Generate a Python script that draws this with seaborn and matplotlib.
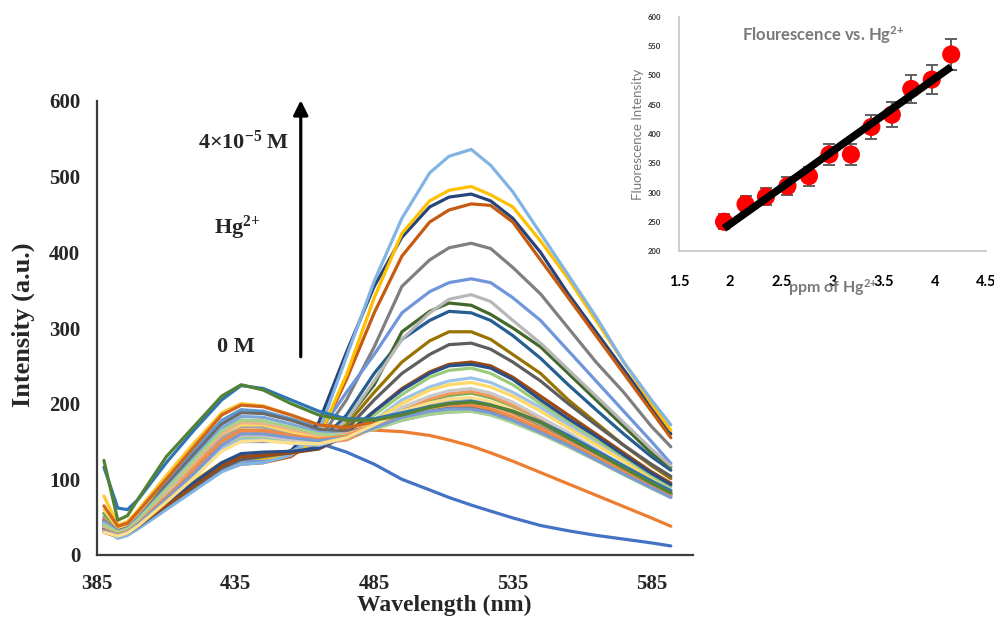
import matplotlib
matplotlib.use("Agg")
import matplotlib.pyplot as plt
import numpy as np
import pandas as pd
import seaborn as sns

# ---------------------------------------------------------------- data
wavelength_nm = [387.5, 392.5, 396, 400, 410, 420, 430, 437, 445, 455, 465, 475,
                 485, 495, 505, 512, 520, 527, 535, 545, 555, 565, 575, 585, 592]

# emission spectra, one list per Hg2+ addition (intensity, a.u.)
blue_0 = [48, 33, 37, 50, 85, 118, 145, 150, 150, 150, 148, 136, 120, 100, 86, 76, 66, 58, 49, 39, 32, 26, 21, 16, 12]
orange_1 = [55, 33, 37, 50, 85, 120, 155, 165, 165, 160, 158, 163, 165, 163, 158, 152, 144, 135, 124, 109, 94, 79, 64, 49, 38]
gray_c8 = [36, 28, 32, 44, 80, 117, 155, 170, 169, 162, 156, 160, 175, 191, 200, 204, 205, 200, 189, 172, 153, 133, 113, 94, 81]
yellow_c1 = [78, 40, 44, 60, 105, 148, 188, 200, 197, 185, 172, 170, 178, 187, 193, 195, 195, 190, 180, 165, 147, 128, 110, 92, 80]
blue_c3 = [50, 34, 38, 53, 95, 138, 178, 192, 190, 180, 168, 166, 176, 191, 201, 206, 207, 202, 192, 175, 155, 135, 115, 95, 83]
green_214 = [55, 35, 40, 55, 92, 130, 165, 178, 177, 168, 158, 158, 170, 190, 205, 211, 214, 208, 197, 180, 160, 138, 117, 96, 82]
navy_477 = [40, 25, 30, 42, 70, 95, 118, 126, 128, 138, 175, 268, 355, 420, 460, 473, 477, 468, 445, 400, 345, 295, 245, 195, 160]
rust_465 = [30, 24, 28, 38, 62, 88, 112, 120, 122, 130, 155, 232, 320, 395, 440, 456, 464, 462, 440, 390, 340, 290, 240, 190, 155]
gray_412 = [42, 27, 30, 42, 70, 95, 118, 125, 128, 136, 152, 205, 275, 355, 390, 406, 412, 405, 380, 345, 300, 255, 215, 170, 143]
olive_295 = [38, 27, 30, 40, 68, 93, 118, 128, 132, 137, 146, 172, 215, 255, 283, 295, 295, 285, 265, 240, 205, 175, 145, 118, 101]
steel_321 = [35, 26, 29, 40, 68, 92, 118, 128, 131, 137, 148, 185, 240, 285, 310, 322, 320, 310, 290, 260, 225, 192, 160, 130, 112]
forest_335 = [40, 27, 30, 42, 70, 95, 120, 130, 132, 137, 147, 178, 225, 295, 322, 333, 330, 318, 300, 275, 240, 205, 170, 135, 116]
cornflower_365 = [38, 25, 30, 40, 66, 92, 115, 122, 126, 136, 162, 215, 265, 320, 348, 360, 365, 360, 340, 310, 270, 230, 190, 150, 121]
peach_216 = [48, 32, 36, 50, 85, 118, 150, 162, 160, 153, 148, 152, 168, 190, 206, 213, 216, 210, 198, 180, 160, 138, 116, 94, 80]
silver_344 = [35, 25, 28, 38, 65, 90, 115, 125, 130, 137, 148, 178, 230, 285, 320, 338, 344, 335, 310, 280, 245, 210, 175, 140, 118]
gold_487 = [45, 28, 32, 45, 72, 98, 122, 128, 128, 133, 155, 238, 340, 425, 468, 482, 487, 476, 460, 415, 365, 310, 255, 200, 165]
sky_536 = [35, 22, 26, 35, 60, 85, 110, 120, 122, 132, 162, 262, 362, 445, 505, 527, 536, 515, 480, 425, 370, 315, 255, 205, 172]
lime_247 = [36, 28, 32, 44, 75, 105, 140, 155, 156, 150, 146, 160, 185, 212, 235, 244, 247, 240, 225, 200, 175, 152, 128, 105, 90]
charcoal_280 = [34, 26, 29, 38, 65, 90, 115, 126, 130, 135, 143, 166, 205, 240, 265, 278, 280, 272, 255, 230, 200, 172, 145, 120, 104]
brown_255 = [33, 28, 31, 40, 66, 92, 118, 130, 132, 135, 140, 158, 190, 220, 242, 252, 255, 250, 235, 210, 185, 160, 135, 110, 95]
indigo_252 = [45, 30, 33, 44, 70, 96, 122, 134, 136, 137, 141, 160, 190, 218, 240, 250, 252, 247, 232, 205, 180, 157, 132, 108, 93]
pale_blue_234 = [40, 30, 34, 46, 78, 108, 140, 152, 152, 148, 145, 155, 178, 205, 222, 230, 234, 228, 215, 195, 172, 148, 125, 100, 86]
cream_228 = [60, 36, 40, 55, 90, 125, 160, 172, 172, 163, 155, 160, 178, 200, 218, 225, 228, 222, 210, 190, 168, 146, 124, 100, 85]
mist_220 = [42, 30, 34, 46, 80, 112, 145, 158, 158, 152, 148, 155, 172, 195, 210, 217, 220, 214, 202, 182, 162, 140, 118, 96, 82]
copper_c2 = [65, 38, 42, 58, 100, 143, 185, 198, 196, 185, 172, 168, 176, 188, 196, 200, 201, 196, 185, 168, 150, 130, 112, 93, 81]
slate_c4 = [45, 32, 36, 50, 92, 133, 173, 188, 187, 178, 166, 163, 170, 182, 190, 194, 195, 190, 181, 166, 148, 129, 110, 92, 80]
azure_c5 = [44, 31, 35, 49, 88, 128, 168, 183, 182, 173, 162, 160, 167, 178, 186, 189, 190, 186, 176, 161, 144, 126, 107, 89, 77]
salmon_c6 = [38, 30, 34, 46, 84, 122, 160, 175, 174, 166, 158, 160, 172, 186, 195, 199, 200, 195, 184, 167, 149, 130, 111, 92, 79]
sage_c7 = [40, 30, 34, 47, 86, 125, 164, 178, 177, 169, 160, 158, 166, 178, 186, 189, 190, 185, 175, 160, 143, 125, 106, 88, 76]
tangerine_c9 = [33, 27, 31, 42, 77, 112, 150, 165, 164, 158, 153, 157, 172, 187, 195, 198, 198, 193, 182, 166, 148, 129, 110, 91, 78]
periwinkle_c10 = [32, 26, 30, 41, 74, 108, 145, 160, 160, 155, 151, 155, 168, 182, 190, 193, 193, 188, 178, 162, 145, 126, 107, 89, 76]
butter_c11 = [30, 25, 29, 39, 70, 102, 137, 150, 151, 148, 147, 155, 172, 190, 201, 206, 208, 203, 192, 175, 156, 136, 116, 96, 83]
royal_top = [116, 62, 60, 74, 122, 165, 205, 224, 220, 205, 190, 180, 180, 188, 196, 200, 203, 198, 190, 176, 158, 138, 118, 98, 85]
leaf_top = [125, 46, 52, 75, 130, 170, 210, 225, 218, 200, 185, 178, 178, 185, 195, 200, 202, 198, 190, 175, 155, 135, 115, 95, 82]

spectra = [
    ("blue_0", blue_0, "#4472C4"),
    ("orange_1", orange_1, "#ED7D31"),
    ("gray_c8", gray_c8, "#A5A5A5"),
    ("yellow_c1", yellow_c1, "#FFC72C"),
    ("blue_c3", blue_c3, "#5B9BD5"),
    ("green_214", green_214, "#70AD47"),
    ("navy_477", navy_477, "#264478"),
    ("rust_465", rust_465, "#C55A11"),
    ("gray_412", gray_412, "#7F7F7F"),
    ("olive_295", olive_295, "#997300"),
    ("steel_321", steel_321, "#255E91"),
    ("forest_335", forest_335, "#43682B"),
    ("cornflower_365", cornflower_365, "#6F95DA"),
    ("peach_216", peach_216, "#F1975A"),
    ("silver_344", silver_344, "#B7B7B7"),
    ("gold_487", gold_487, "#FFC000"),
    ("sky_536", sky_536, "#82B4E3"),
    ("lime_247", lime_247, "#9CCB7C"),
    ("charcoal_280", charcoal_280, "#5E5E5E"),
    ("brown_255", brown_255, "#9E480E"),
    ("indigo_252", indigo_252, "#2A4F86"),
    ("pale_blue_234", pale_blue_234, "#9DC3E6"),
    ("cream_228", cream_228, "#FFD966"),
    ("mist_220", mist_220, "#C9C9C9"),
    ("copper_c2", copper_c2, "#D0651E"),
    ("slate_c4", slate_c4, "#6B6B6B"),
    ("azure_c5", azure_c5, "#7DA7D9"),
    ("salmon_c6", salmon_c6, "#F4B183"),
    ("sage_c7", sage_c7, "#A9D18E"),
    ("tangerine_c9", tangerine_c9, "#EE8A45"),
    ("periwinkle_c10", periwinkle_c10, "#7C9AD2"),
    ("butter_c11", butter_c11, "#FFE08A"),
    ("royal_top", royal_top, "#2E75B6"),
    ("leaf_top", leaf_top, "#548235"),
]

# calibration (inset)
ppm_hg = [1.94, 2.15, 2.35, 2.56, 2.77, 2.97, 3.18, 3.38, 3.58, 3.77, 3.97, 4.16]
fluor_intensity = [250, 280, 293, 311, 328, 365, 365, 412, 433, 477, 493, 536]
fluor_err = [12.5, 14.0, 14.6, 15.6, 16.4, 18.2, 18.3, 20.6, 21.6, 23.9, 24.6, 26.8]

x_ticks = [385, 435, 485, 535, 585]
y_ticks = [0, 100, 200, 300, 400, 500, 600]
inset_x_ticks = [1.5, 2, 2.5, 3, 3.5, 4, 4.5]
inset_y_ticks = [200, 250, 300, 350, 400, 450, 500, 550, 600]

# ---------------------------------------------------------------- style
sns.set_style("white")
plt.rcParams["font.family"] = ["Liberation Serif", "DejaVu Serif"]
plt.rcParams["mathtext.default"] = "regular"

W, H = 995, 619
fig = plt.figure(figsize=(W / 100, H / 100), dpi=100)


def box(x0, y0, x1, y1):
    return [x0 / W, 1 - y1 / H, (x1 - x0) / W, (y1 - y0) / H]


# ---------------------------------------------------------------- main panel
ax = fig.add_axes(box(97, 101, 693, 555))
rows = []
for name, vals, _ in spectra:
    for w, v in zip(wavelength_nm, vals):
        rows.append((name, w, v))
df = pd.DataFrame(rows, columns=["series", "wavelength", "intensity"])
order = [s[0] for s in spectra]
palette = {s[0]: s[2] for s in spectra}
sns.lineplot(data=df, x="wavelength", y="intensity", hue="series",
             hue_order=order, palette=palette, estimator=None, sort=False,
             linewidth=2.3, legend=False, ax=ax)

ax.set_xlim(385, 600)
ax.set_ylim(0, 600)
ax.set_xticks(x_ticks)
ax.set_yticks(y_ticks)
ax.set_xticklabels([str(t) for t in x_ticks])
ax.set_yticklabels([str(t) for t in y_ticks])
ax.tick_params(axis="both", length=0, labelsize=15)
ax.tick_params(axis="x", pad=14)
ax.tick_params(axis="y", pad=12)
for lab in ax.get_xticklabels() + ax.get_yticklabels():
    lab.set_fontweight("bold")
ax.set_xlabel("")
ax.set_ylabel("")
for side in ("top", "right"):
    ax.spines[side].set_visible(False)
for side in ("left", "bottom"):
    ax.spines[side].set_color("#3c3c3c")
    ax.spines[side].set_linewidth(1.6)

fig.text(444 / W, 1 - 605 / H, "Wavelength (nm)", ha="center", va="center",
         fontsize=17, fontweight="bold")
fig.text(23 / W, 1 - 325 / H, "Intensity (a.u.)", ha="center", va="center",
         rotation=90, fontsize=19, fontweight="bold")

# titration arrow and labels
ax.annotate("", xy=(458.5, 601), xytext=(458.5, 262),
            arrowprops=dict(arrowstyle="-|>", lw=2.3, color="black",
                            mutation_scale=22, shrinkA=0, shrinkB=0),
            annotation_clip=False)
ax.text(438, 546, r"4×10$^{-5}$ M", ha="center", va="center",
        fontsize=16, fontweight="bold")
ax.text(435.5, 432, r"Hg$^{2{+}}$", ha="center", va="center",
        fontsize=16, fontweight="bold")
ax.text(435, 275, "0 M", ha="center", va="center",
        fontsize=16, fontweight="bold")

# ---------------------------------------------------------------- inset
ins = fig.add_axes(box(679, 17, 986, 251))
ins.patch.set_alpha(0)
ins.errorbar(ppm_hg, fluor_intensity, yerr=fluor_err, fmt="none",
             ecolor="#5f5f5f", elinewidth=1.4, capsize=4.5, capthick=1.4, zorder=2)
sns.scatterplot(x=ppm_hg, y=fluor_intensity, s=170, color="#FF0000",
                edgecolor="none", ax=ins, zorder=3)
sns.regplot(x=np.array(ppm_hg), y=np.array(fluor_intensity), scatter=False,
            ci=None, color="black", ax=ins,
            line_kws=dict(lw=5.5, zorder=5, solid_capstyle="butt"))

ins.set_xlim(1.5, 4.5)
ins.set_ylim(200, 600)
ins.set_xticks(inset_x_ticks)
ins.set_yticks(inset_y_ticks)
ins.set_xticklabels(["1.5", "2", "2.5", "3", "3.5", "4", "4.5"],
                    fontfamily="Lato", fontweight="bold", fontsize=10.5, color="black")
ins.set_yticklabels([str(t) for t in inset_y_ticks],
                    fontfamily="Lato", fontweight="bold", fontsize=5.5, color="#303030")
ins.tick_params(axis="both", length=0)
ins.tick_params(axis="x", pad=17)
ins.tick_params(axis="y", pad=13)
ins.set_xlabel("")
ins.set_ylabel("")
for side in ("top", "right"):
    ins.spines[side].set_visible(False)
for side in ("left", "bottom"):
    ins.spines[side].set_color("#c8c8c8")
    ins.spines[side].set_linewidth(1.3)

ins.text(0.47, 0.923, r"Flourescence vs. Hg$^{2{+}}$", transform=ins.transAxes,
         ha="center", va="center", fontfamily="Lato", fontweight="bold",
         fontsize=12, color="#7a7a7a")
ins.text(-0.133, 0.5, "Fluorescence Intensity", transform=ins.transAxes,
         ha="center", va="center", rotation=90, fontfamily="Lato",
         fontsize=9.5, color="#7a7a7a")
ins.text(0.5, -0.155, r"ppm of Hg$^{2{+}}$", transform=ins.transAxes,
         ha="center", va="center", fontfamily="Lato", fontweight="bold",
         fontsize=11.5, color="#7a7a7a")

fig.savefig("out.png", dpi=100)
